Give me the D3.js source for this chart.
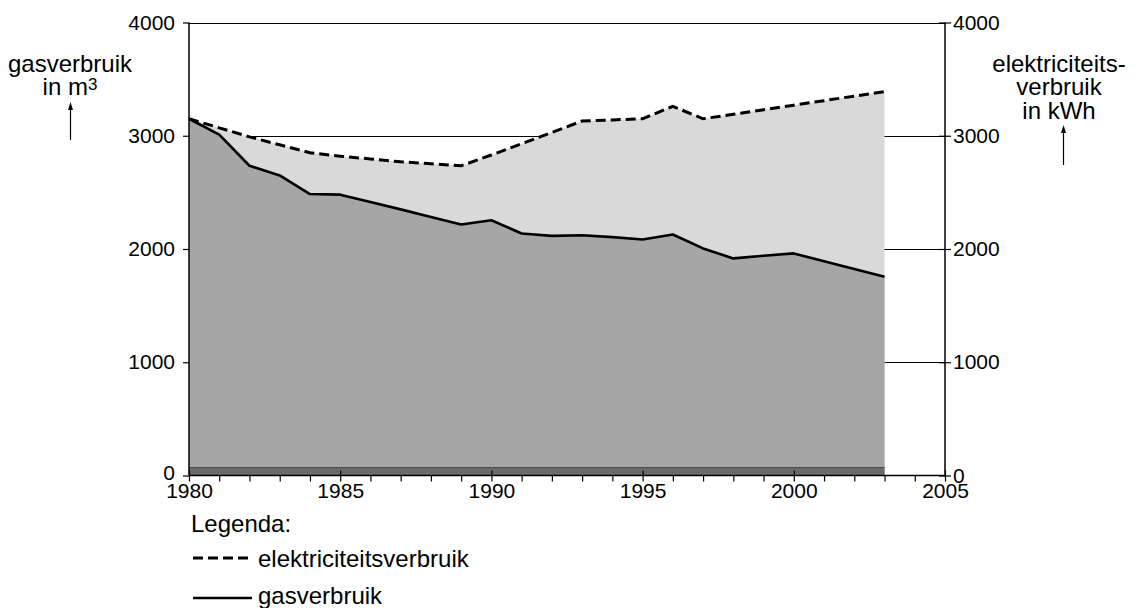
<!DOCTYPE html>
<html>
<head>
  <meta charset="utf-8" />
  <title>gas- en elektriciteitsverbruik</title>
  <style>
    body { margin: 0; background: #fff; }
    svg { display: block; font-family: "Liberation Sans", Arial, sans-serif; }
    .label { font-size: 24px; }
  </style>
</head>
<body>
  <svg id="svg" width="1139" height="608"></svg>
  <script src="https://d3js.org/d3.v7.min.js"></script>
  <script>
    // values
    const years = [1980, 1981, 1982, 1983, 1984, 1985, 1986, 1987, 1988, 1989, 1990, 1991,
      1992, 1993, 1994, 1995, 1996, 1997, 1998, 1999, 2000, 2001, 2002, 2003]
    const gas = [3150, 3010, 2735, 2650, 2485, 2480, 2415, 2350, 2283, 2216, 2254, 2137,
      2116, 2122, 2105, 2084, 2128, 2005, 1917, 1940, 1961, 1892, 1823, 1754]
    const elec = [3150, 3070, 2990, 2920, 2850, 2820, 2795, 2770, 2752, 2735, 2830, 2930,
      3030, 3130, 3140, 3150, 3260, 3150, 3190, 3230, 3270, 3310, 3350, 3390]
    const band = [70, 70] // dark strip at the bottom, 1980 - 2003
    const yTicks = [0, 1000, 2000, 3000, 4000]
    const xMajor = [1980, 1985, 1990, 1995, 2000, 2005]

    const x = d3.scaleLinear().domain([1980, 2005]).range([189, 945])
    const y = d3.scaleLinear().domain([0, 4000]).range([475.5, 22.5])

    const svg = d3.select('#svg')

    // grid lines (behind the areas)
    svg.append('g').selectAll('line')
      .data(yTicks.slice(1))
      .join('line')
      .attr('x1', x(1980)).attr('x2', x(2005))
      .attr('y1', d => Math.round(y(d)) + 0.5).attr('y2', d => Math.round(y(d)) + 0.5)
      .attr('stroke', '#000').attr('stroke-width', 1)

    const data = years.map((yr, i) => ({ yr, gas: gas[i], elec: elec[i] }))

    const areaElec = d3.area().x(d => x(d.yr)).y0(y(0)).y1(d => y(d.elec))
    const areaGas = d3.area().x(d => x(d.yr)).y0(y(0)).y1(d => y(d.gas))

    svg.append('path').attr('d', areaElec(data)).attr('fill', '#d9d9d9')
    svg.append('path').attr('d', areaGas(data)).attr('fill', '#a6a6a6')

    // bottom strip
    const bandData = [{ yr: years[0], v: band[0] }, { yr: years[years.length - 1], v: band[1] }]
    svg.append('path')
      .attr('d', d3.area().x(d => x(d.yr)).y0(y(0)).y1(d => y(d.v))(bandData))
      .attr('fill', '#6b6b6b')
    svg.append('path')
      .attr('d', d3.line().x(d => x(d.yr)).y(d => y(d.v))(bandData))
      .attr('fill', 'none').attr('stroke', '#4a4a4a').attr('stroke-width', 1)

    // lines
    svg.append('path')
      .attr('d', d3.line().x(d => x(d.yr)).y(d => y(d.elec))(data))
      .attr('fill', 'none').attr('stroke', '#000').attr('stroke-width', 3)
      .attr('stroke-dasharray', '10,5')
    svg.append('path')
      .attr('d', d3.line().x(d => x(d.yr)).y(d => y(d.gas))(data))
      .attr('fill', 'none').attr('stroke', '#000').attr('stroke-width', 2.6)
      .attr('stroke-linejoin', 'round')

    // axes
    const left = svg.append('g').attr('transform', `translate(${x(1980)},0)`)
      .call(d3.axisLeft(y).tickValues(yTicks).tickFormat(d3.format('d')).tickSize(6).tickPadding(8))
    const right = svg.append('g').attr('transform', `translate(${x(2005)},0)`)
      .call(d3.axisRight(y).tickValues(yTicks).tickFormat(d3.format('d')).tickSize(6).tickPadding(2))
    right.selectAll('.tick line').attr('x1', -6)

    const bottom = svg.append('g').attr('transform', `translate(0,${y(0)})`)
      .call(d3.axisBottom(x).tickValues(years.concat([2004, 2005])).tickFormat(d => xMajor.includes(d) ? d : '').tickSize(6).tickPadding(1.5))
    bottom.selectAll('.tick line').attr('y1', d => xMajor.includes(d) ? -5 : 0)

    ;[left, right, bottom].forEach(g => {
      g.select('.domain').attr('stroke', '#000').attr('stroke-width', 1.5)
      g.selectAll('.tick line').attr('stroke', '#000').attr('stroke-width', 1.2)
      g.selectAll('.tick text').attr('fill', '#000').style('font-size', '21px')
    })
    left.select('.domain').attr('d', `M0,${y(4000)}V${y(0)}`)
    right.select('.domain').attr('d', `M0,${y(4000)}V${y(0)}`)
    bottom.select('.domain').attr('d', `M${x(1980)},0H${x(2005)}`)
    // the zero labels sit a little above the axis
    left.selectAll('.tick text').filter(d => d === 0).attr('y', -3)

    // axis titles
    const lt = svg.append('text').attr('class', 'label').attr('text-anchor', 'middle')
    lt.append('tspan').attr('x', 70).attr('y', 71.5).text('gasverbruik')
    const l2 = lt.append('tspan').attr('x', 70).attr('y', 94.5).text('in m')
    l2.append('tspan').attr('dy', -5).style('font-size', '17px').text('3')

    const rt = svg.append('text').attr('class', 'label').attr('text-anchor', 'middle')
    ;['elektriciteits-', 'verbruik', 'in kWh'].forEach((s, i) => {
      rt.append('tspan').attr('x', 1059).attr('y', 71.5 + i * 23.5).text(s)
    })

    function arrow(cx, y1, y2) {
      svg.append('line').attr('x1', cx).attr('x2', cx).attr('y1', y1 + 4).attr('y2', y2)
        .attr('stroke', '#000').attr('stroke-width', 1.2)
      svg.append('path').attr('d', `M${cx},${y1}L${cx - 2.5},${y1 + 8}L${cx + 2.5},${y1 + 8}Z`).attr('fill', '#000')
    }
    arrow(70.5, 102, 140)
    arrow(1063.5, 125, 165)

    // legend
    svg.append('text').attr('class', 'label').attr('x', 191).attr('y', 532).text('Legenda:')
    svg.append('line').attr('x1', 193).attr('x2', 252).attr('y1', 558).attr('y2', 558)
      .attr('stroke', '#000').attr('stroke-width', 3).attr('stroke-dasharray', '10,5')
    svg.append('text').attr('class', 'label').attr('x', 258).attr('y', 567).text('elektriciteitsverbruik')
    svg.append('line').attr('x1', 193).attr('x2', 252).attr('y1', 598).attr('y2', 598)
      .attr('stroke', '#000').attr('stroke-width', 2.4)
    svg.append('text').attr('class', 'label').attr('x', 258).attr('y', 604).text('gasverbruik')
  </script>
</body>
</html>
